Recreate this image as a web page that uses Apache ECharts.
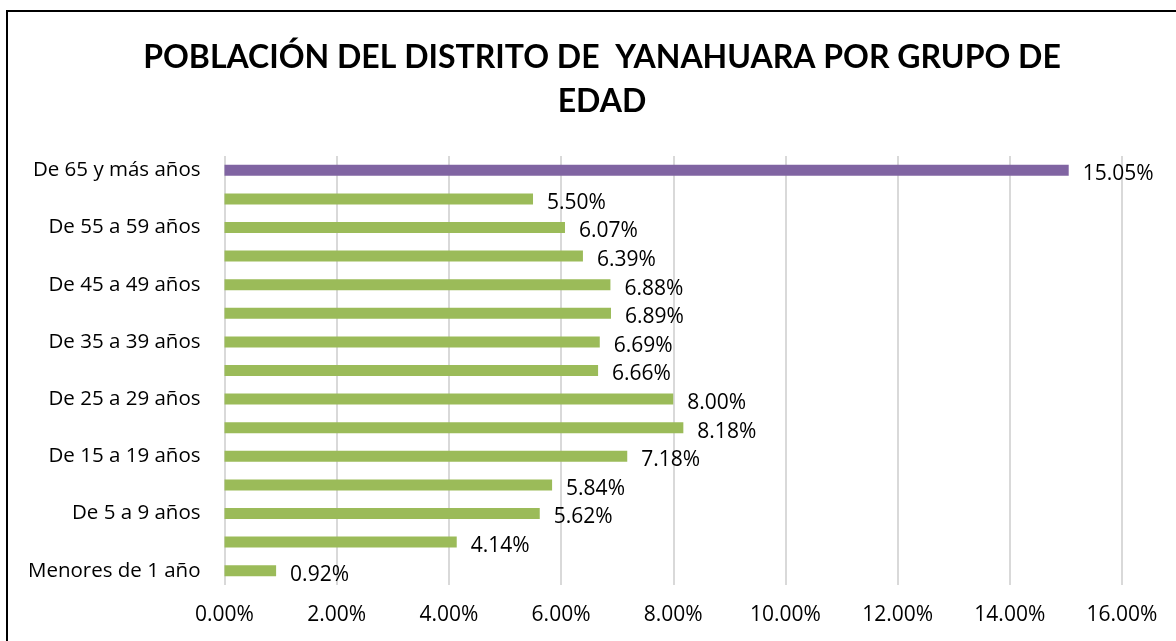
<!DOCTYPE html>
<html>
<head>
<meta charset="utf-8">
<script src="https://cdn.jsdelivr.net/npm/echarts@6/dist/echarts.min.js"></script>
<style>
html,body{margin:0;padding:0;background:#fff;}
#c{width:1176px;height:641px;}
</style>
</head>
<body>
<div id="c"></div>
<script>
const categories = ["Menores de 1 año","De 1 a 4 años","De 5 a 9 años","De 10 a 14 años","De 15 a 19 años","De 20 a 24 años","De 25 a 29 años","De 30 a 34 años","De 35 a 39 años","De 40 a 44 años","De 45 a 49 años","De 50 a 54 años","De 55 a 59 años","De 60 a 64 años","De 65 y más años"];
const values = [0.92,4.14,5.62,5.84,7.18,8.18,8.00,6.66,6.69,6.89,6.88,6.39,6.07,5.50,15.05];
const titleText = "POBLACIÓN DEL DISTRITO DE  YANAHUARA POR GRUPO DE\nEDAD";
const green = "#9BBB59", purple = "#8064A2";
const FONT = "'Open Sans', Lato, sans-serif";
const TFONT = "Lato, 'Open Sans', sans-serif";

const chart = echarts.init(document.getElementById('c'), null, {renderer:'canvas'});
chart.setOption({
  animation:false,
  backgroundColor:'#fff',
  title:{
    text:titleText, top:31, left:597, textAlign:'center',
    textStyle:{fontFamily:TFONT, fontWeight:'bold', fontSize:32, color:'#000', lineHeight:44}
  },
  graphic:[{type:'rect', shape:{x:7,y:11,width:1180,height:650}, style:{fill:'none', stroke:'#000', lineWidth:2}, silent:true}],
  grid:{left:224.5, right:54, top:156, bottom:56, containLabel:false},
  xAxis:{
    type:'value', min:0, max:16, interval:2,
    axisLine:{show:false}, axisTick:{show:false},
    splitLine:{show:true, lineStyle:{color:'#D9D9D9', width:2}},
    axisLabel:{formatter:v=>v.toFixed(2)+'%', fontFamily:FONT, fontSize:21, color:'#000', margin:20}
  },
  yAxis:{
    type:'category', data:categories,
    axisLine:{show:false}, axisTick:{show:false},
    axisLabel:{interval:1, fontFamily:FONT, fontSize:20.5, color:'#000', margin:24}
  },
  series:[{
    type:'bar', barWidth:11,
    data:values.map((v,i)=>({value:v, itemStyle:{color: i===values.length-1?purple:green}})),
    label:{show:true, position:'right', distance:14, offset:[0,4], formatter:p=>p.value.toFixed(2)+'%', fontFamily:FONT, fontSize:21, color:'#000'}
  }]
});
</script>
</body>
</html>
